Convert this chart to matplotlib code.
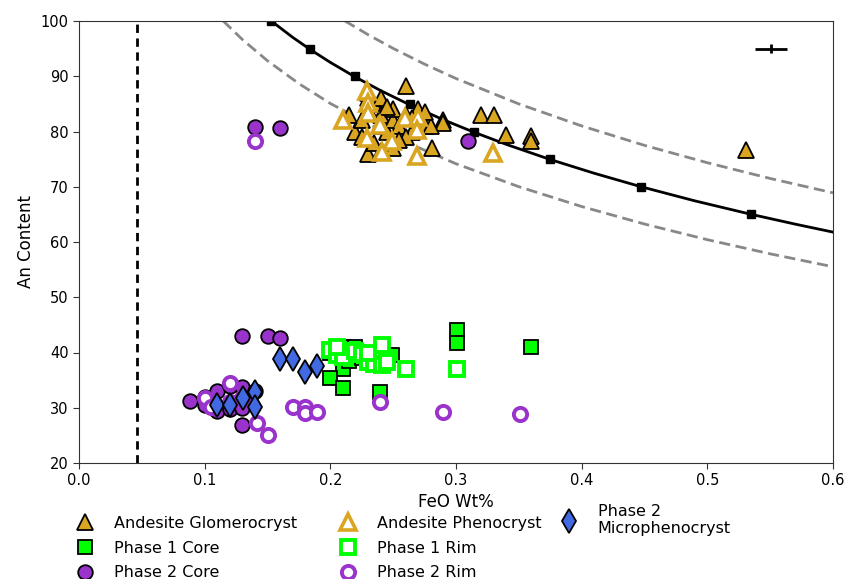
import matplotlib
matplotlib.use("Agg")
import matplotlib.pyplot as plt

# --- reference curves ---
curve_x = [0.153, 0.17, 0.184, 0.2, 0.22, 0.24, 0.263, 0.29, 0.314, 0.34,
           0.375, 0.41, 0.447, 0.49, 0.535, 0.57, 0.6]
curve_an = [100.0, 97.05, 94.84, 92.51, 89.84, 87.41, 84.85, 82.12, 79.9, 77.67,
            74.93, 72.44, 70.02, 67.45, 65.0, 63.23, 61.79]
node_x = [0.153, 0.184, 0.220, 0.263, 0.314, 0.375, 0.447, 0.535]
node_an = [100, 95, 90, 85, 80, 75, 70, 65]

upper_x = [0.2117, 0.23, 0.25, 0.275, 0.3, 0.35, 0.4, 0.45, 0.5, 0.55, 0.6]
upper_an = [100.0, 97.53, 95.04, 92.19, 89.59, 84.99, 81.01, 77.49, 74.35, 71.5, 68.9]
lower_x = [0.1148, 0.13, 0.15, 0.175, 0.2, 0.25, 0.3, 0.35, 0.4, 0.45, 0.5, 0.55, 0.6]
lower_an = [100.0, 96.65, 92.8, 88.66, 85.07, 79.06, 74.16, 70.01, 66.42, 63.25,
            60.42, 57.86, 55.52]

detect_x = 0.046
err_x, err_y, err_dx, err_dy = 0.5505, 95.0, 0.0125, 0.75

# --- samples ---
glom_feo = [0.22, 0.225, 0.23, 0.23, 0.23, 0.235, 0.24, 0.24, 0.245, 0.25, 0.25,
            0.255, 0.26, 0.26, 0.265, 0.27, 0.27, 0.275, 0.281, 0.29, 0.29, 0.23,
            0.24, 0.25, 0.235, 0.26, 0.225, 0.24, 0.28, 0.215, 0.32, 0.33, 0.34,
            0.36, 0.36, 0.531, 0.245, 0.255, 0.265, 0.275]
glom_an = [80, 82, 84, 86, 87, 85, 83, 81, 80, 82, 84,
           81, 83, 88.3, 80, 82, 84, 81, 77, 82.1, 81.5, 76,
           76.5, 77, 78, 79, 79, 86, 81, 83, 83, 83, 79.4,
           79.1, 78.2, 76.7, 84.5, 78.5, 82.5, 83.5]

pheno_feo = [0.2098, 0.229, 0.230, 0.2302, 0.2395, 0.2594, 0.2697, 0.229, 0.2488,
             0.2408, 0.2687, 0.2687, 0.3297]
pheno_an = [82.1, 87.3, 85.2, 83.4, 81.2, 82.4, 82.7, 78.8, 78.2,
            76.3, 75.6, 80.3, 76.1]

p1core_feo = [0.20, 0.21, 0.22, 0.23, 0.24, 0.249, 0.21, 0.1997, 0.2103, 0.2395,
              0.3005, 0.3005, 0.36, 0.215, 0.225]
p1core_an = [40, 41, 41, 40, 38, 39.5, 37, 35.3, 33.5, 32.9,
             44.1, 41.7, 41.0, 38.5, 39]

p1rim_feo = [0.20, 0.205, 0.21, 0.2103, 0.22, 0.225, 0.23, 0.235, 0.2408, 0.2408,
             0.2602, 0.3005, 0.23, 0.245, 0.205]
p1rim_an = [40.5, 39.5, 40, 39.2, 40.3, 39.8, 38.3, 38, 41.4, 37.7,
            37.0, 37.0, 40, 38.3, 41]

p2core_feo = [0.14, 0.16, 0.3098, 0.1295, 0.1507, 0.16, 0.0883, 0.10, 0.11, 0.11,
              0.12, 0.12, 0.125, 0.13, 0.1295, 0.14, 0.12, 0.10, 0.13]
p2core_an = [80.8, 80.6, 78.2, 43.0, 43.0, 42.6, 31.2, 32, 29.5, 33,
             31, 34, 30.5, 33.8, 26.9, 33, 29.8, 30.5, 30]

p2rim_feo = [0.14, 0.1003, 0.105, 0.12, 0.12, 0.1295, 0.1414, 0.1507, 0.1705,
             0.1798, 0.18, 0.189, 0.2395, 0.2898, 0.351]
p2rim_an = [78.2, 31.7, 30.2, 34.5, 31.1, 31.7, 27.2, 25.1, 30.2,
            30.2, 29.0, 29.3, 31.1, 29.2, 28.8]

micro_feo = [0.160, 0.170, 0.1798, 0.1896, 0.140, 0.140, 0.1096, 0.120, 0.1307]
micro_an = [38.8, 38.8, 36.5, 37.6, 32.9, 30.2, 30.5, 30.5, 31.7]

gold = "#DAA520"
green = "#00FF00"
purple = "#9933CC"
blue = "#4169E1"

plt.rcParams["font.family"] = ["DejaVu Sans"]
fig = plt.figure(figsize=(8.45, 5.79), dpi=100)
ax = fig.add_axes([79 / 845, 116 / 579, 754 / 845, 442 / 579])

ax.plot(lower_x, lower_an, color="#888888", lw=2, dashes=(4, 2), zorder=1)
ax.plot(upper_x, upper_an, color="#888888", lw=2, dashes=(4, 2), zorder=1)
ax.plot(curve_x, curve_an, "-", color="black", lw=2, zorder=1)
ax.plot(node_x, node_an, "s", color="black", ms=6, ls="none", zorder=1)
ax.axvline(detect_x, color="black", lw=2, dashes=(3, 2), zorder=1)
ax.errorbar([err_x], [err_y], xerr=[err_dx], yerr=[err_dy], fmt="none",
            ecolor="black", elinewidth=2, capsize=0)

kw = dict(ls="none", zorder=3)
h_glom, = ax.plot(glom_feo, glom_an, "^", ms=12, mfc=gold, mec="black", mew=1.3, **kw)
h_p1c, = ax.plot(p1core_feo, p1core_an, "s", ms=10.5, mfc=green, mec="black", mew=1.3, **kw)
h_p2c, = ax.plot(p2core_feo, p2core_an, "o", ms=10.5, mfc=purple, mec="black", mew=1.3, **kw)
h_ph, = ax.plot(pheno_feo, pheno_an, "^", ms=11, mfc="white", mec=gold, mew=2.6, **kw)
h_p1r, = ax.plot(p1rim_feo, p1rim_an, "s", ms=9.5, mfc="white", mec=green, mew=2.8, **kw)
h_p2r, = ax.plot(p2rim_feo, p2rim_an, "o", ms=9.5, mfc="white", mec=purple, mew=2.8, **kw)
h_mic, = ax.plot(micro_feo, micro_an, "d", ms=12, mfc=blue, mec="black", mew=1.3, **kw)

ax.set_xlim(0, 0.6)
ax.set_ylim(20, 100)
ax.set_xticks([0.0, 0.1, 0.2, 0.3, 0.4, 0.5, 0.6])
ax.set_yticks(range(20, 101, 10))
ax.tick_params(labelsize=10.5, length=4, color="#333333")
for s in ax.spines.values():
    s.set_color("#333333")
ax.set_xlabel("FeO Wt%", fontsize=12, labelpad=3)
ax.set_ylabel("An Content", fontsize=12)

# legend laid out as three separate columns
leg_kw = dict(loc="upper left", bbox_transform=fig.transFigure, frameon=False,
              fontsize=11.5, handletextpad=0.8, labelspacing=0.6, borderpad=0,
              borderaxespad=0)
leg1 = ax.legend([h_glom, h_p1c, h_p2c],
                 ["Andesite Glomerocryst", "Phase 1 Core", "Phase 2 Core"],
                 bbox_to_anchor=(69 / 845, 1 - 516 / 579), **leg_kw)
ax.add_artist(leg1)
leg2 = ax.legend([h_ph, h_p1r, h_p2r],
                 ["Andesite Phenocryst", "Phase 1 Rim", "Phase 2 Rim"],
                 bbox_to_anchor=(332 / 845, 1 - 516 / 579), **leg_kw)
ax.add_artist(leg2)
ax.legend([h_mic], ["Phase 2\nMicrophenocryst"],
          bbox_to_anchor=(553 / 845, 1 - 504 / 579), **leg_kw)

fig.savefig("out.png", dpi=100)
